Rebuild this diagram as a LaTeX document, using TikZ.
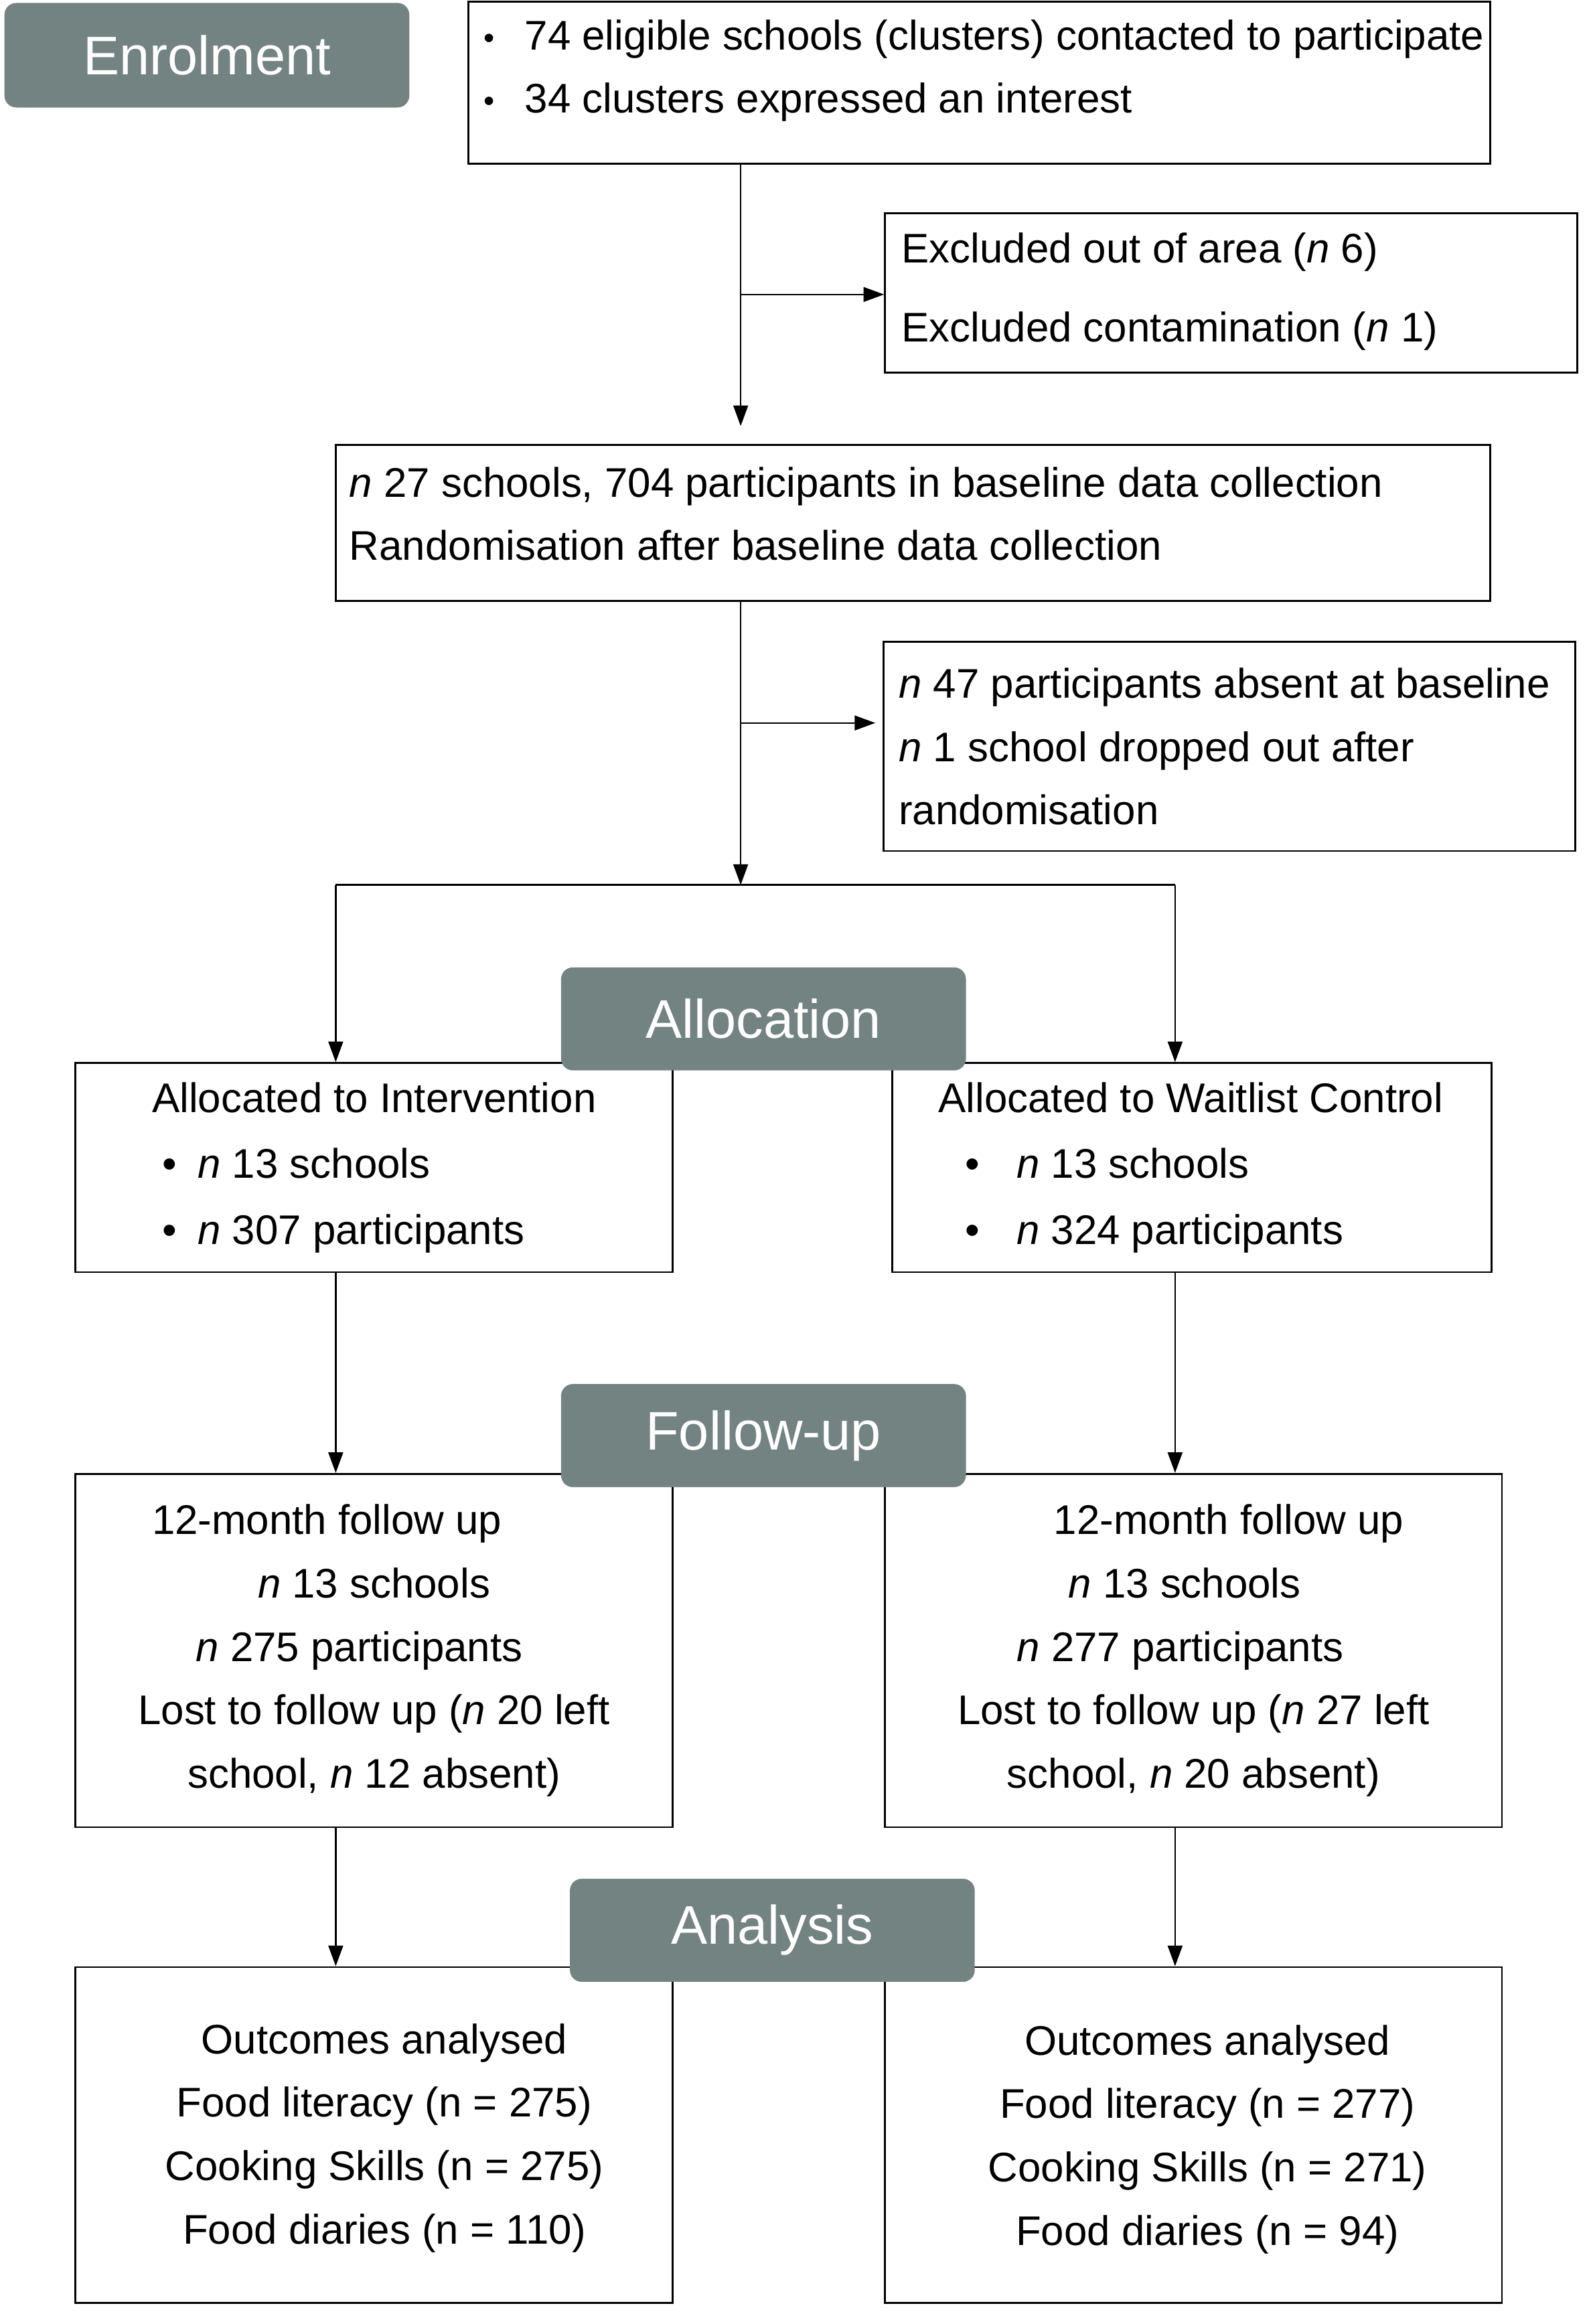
\documentclass[tikz,border=0pt]{standalone}
\usepackage{fontspec}
\setmainfont{Liberation Sans}
\usetikzlibrary{arrows.meta,positioning}
\definecolor{hdrgrey}{RGB}{115,131,129}
\newcommand{\enrolbullet}{\makebox[0.56cm][l]{\raisebox{0.5pt}{\fontsize{12}{12}\selectfont\textbullet}}}
\newcommand{\armbullet}[1]{\makebox[#1][l]{\textbullet}}

\begin{document}
\begin{tikzpicture}[
        x=0.02cm, y=-0.02cm,
        font=\fontsize{16}{24.5}\selectfont,
        frame/.style={rectangle, draw, line width=0.75pt, inner sep=0pt},
        header/.style={rectangle, rounded corners=0.16cm, fill=hdrgrey, text=white, minimum width=5.5cm, minimum height=1.4cm, font=\fontsize{21}{25}\selectfont},
        txt/.style={anchor=west, align=left, inner sep=0pt},
        arrow/.style={line width=0.6pt, -{Triangle[length=0.28cm, width=0.2cm]}},
        link/.style={line width=0.6pt}
    ]
        \useasboundingbox (0,0) rectangle (1080,1578.4);

        % Enrolment
        \node[frame, minimum width=13.88cm, minimum height=2.2cm] (contacted) at (665,56) {};
        \node[txt] (contactedtxt) at (328,48) {\enrolbullet 74 eligible schools (clusters) contacted to participate\\ \enrolbullet 34 clusters expressed an interest};
        \node[frame, minimum width=9.4cm, minimum height=2.16cm] (excluded) at (836,199) {};
        \node[txt] (excludedtxt) at (612,198) {Excluded out of area (\textit{n} 6)\\[6pt] Excluded contamination (\textit{n} 1)};
        \node[frame, minimum width=15.68cm, minimum height=2.12cm] (baseline) at (620,355) {};
        \node[txt] (baselinetxt) at (237,349) {\textit{n} 27 schools, 704 participants in baseline data collection\\ Randomisation after baseline data collection};
        \node[frame, minimum width=9.4cm, minimum height=2.84cm] (absent) at (835,507) {};
        \node[txt] (absenttxt) at (610,507) {\textit{n} 47 participants absent at baseline\\ \textit{n} 1 school dropped out after\\ randomisation};

        % Allocation
        \node[frame, minimum width=8.12cm, minimum height=2.84cm] (intervention) at (254,793) {};
        \node[txt] (interventiontxt) at (103,793) {Allocated to Intervention\\[1pt] \hspace*{0.14cm}\armbullet{0.48cm}\textit{n} 13 schools\\[1pt] \hspace*{0.14cm}\armbullet{0.48cm}\textit{n} 307 participants};
        \node[frame, minimum width=8.14cm, minimum height=2.84cm] (waitlist) at (809.5,793) {};
        \node[txt] (waitlisttxt) at (637,793) {Allocated to Waitlist Control\\[1pt] \hspace*{0.36cm}\armbullet{0.7cm}\textit{n} 13 schools\\[1pt] \hspace*{0.36cm}\armbullet{0.7cm}\textit{n} 324 participants};

        % Follow-up
        \node[frame, minimum width=8.12cm, minimum height=4.8cm, align=center] (followint) at (254,1121) {\hspace*{-1.28cm}12-month follow up\\ \textit{n} 13 schools\\ \hspace*{-0.4cm}\textit{n} 275 participants\\ Lost to follow up (\textit{n} 20 left\\ school, \textit{n} 12 absent)};
        \node[frame, minimum width=8.38cm, minimum height=4.8cm, align=center] (followwait) at (810.5,1121) {\hspace*{0.96cm}12-month follow up\\ \hspace*{-0.24cm}\textit{n} 13 schools\\ \hspace*{-0.36cm}\textit{n} 277 participants\\ Lost to follow up (\textit{n} 27 left\\ school, \textit{n} 20 absent)};

        % Analysis
        \node[frame, minimum width=8.12cm, minimum height=4.56cm] (analysedint) at (254,1450) {};
        \node[align=center, inner sep=0pt] (analysedinttxt) at (261,1452) {Outcomes analysed\\ Food literacy (n = 275)\\ Cooking Skills (n = 275)\\ Food diaries (n = 110)};
        \node[frame, minimum width=8.38cm, minimum height=4.56cm] (analysedwait) at (810.5,1450) {};
        \node[align=center, inner sep=0pt] (analysedwaittxt) at (820,1453) {Outcomes analysed\\ Food literacy (n = 277)\\ Cooking Skills (n = 271)\\ Food diaries (n = 94)};

        % Connections
        \coordinate (split1) at (503,200);
        \coordinate (split2) at (503,491);
        \coordinate (forkL) at (228,601);
        \coordinate (forkM) at (503,601);
        \coordinate (forkR) at (798,601);
        \draw[arrow, shorten >=0.24cm] (contacted.south -| split1) -- (baseline.north -| split1);
        \draw[arrow] (split1) -- (split1 -| excluded.west);
        \draw[arrow] (baseline.south -| split2) -- (forkM);
        \draw[arrow, shorten >=0.1cm] (split2) -- (split2 -| absent.west);
        \draw[link] (forkL) -- (forkR);
        \draw[arrow] (forkL) -- (forkL |- intervention.north);
        \draw[arrow] (forkR) -- (forkR |- waitlist.north);
        \draw[arrow] (forkL |- intervention.south) -- (forkL |- followint.north);
        \draw[arrow] (forkR |- waitlist.south) -- (forkR |- followwait.north);
        \draw[arrow] (forkL |- followint.south) -- (forkL |- analysedint.north);
        \draw[arrow] (forkR |- followwait.south) -- (forkR |- analysedwait.north);

        % Stage headers
        \node[header, minimum height=1.42cm] (enrol) at (140.5,37.5) {Enrolment};
        \node[header] (hdralloc) at (518.5,692) {Allocation};
        \node[header] (hdrfollow) at (518.5,975) {Follow-up};
        \node[header] (hdranalysis) at (524.5,1311) {Analysis};
    \end{tikzpicture}
\end{document}
